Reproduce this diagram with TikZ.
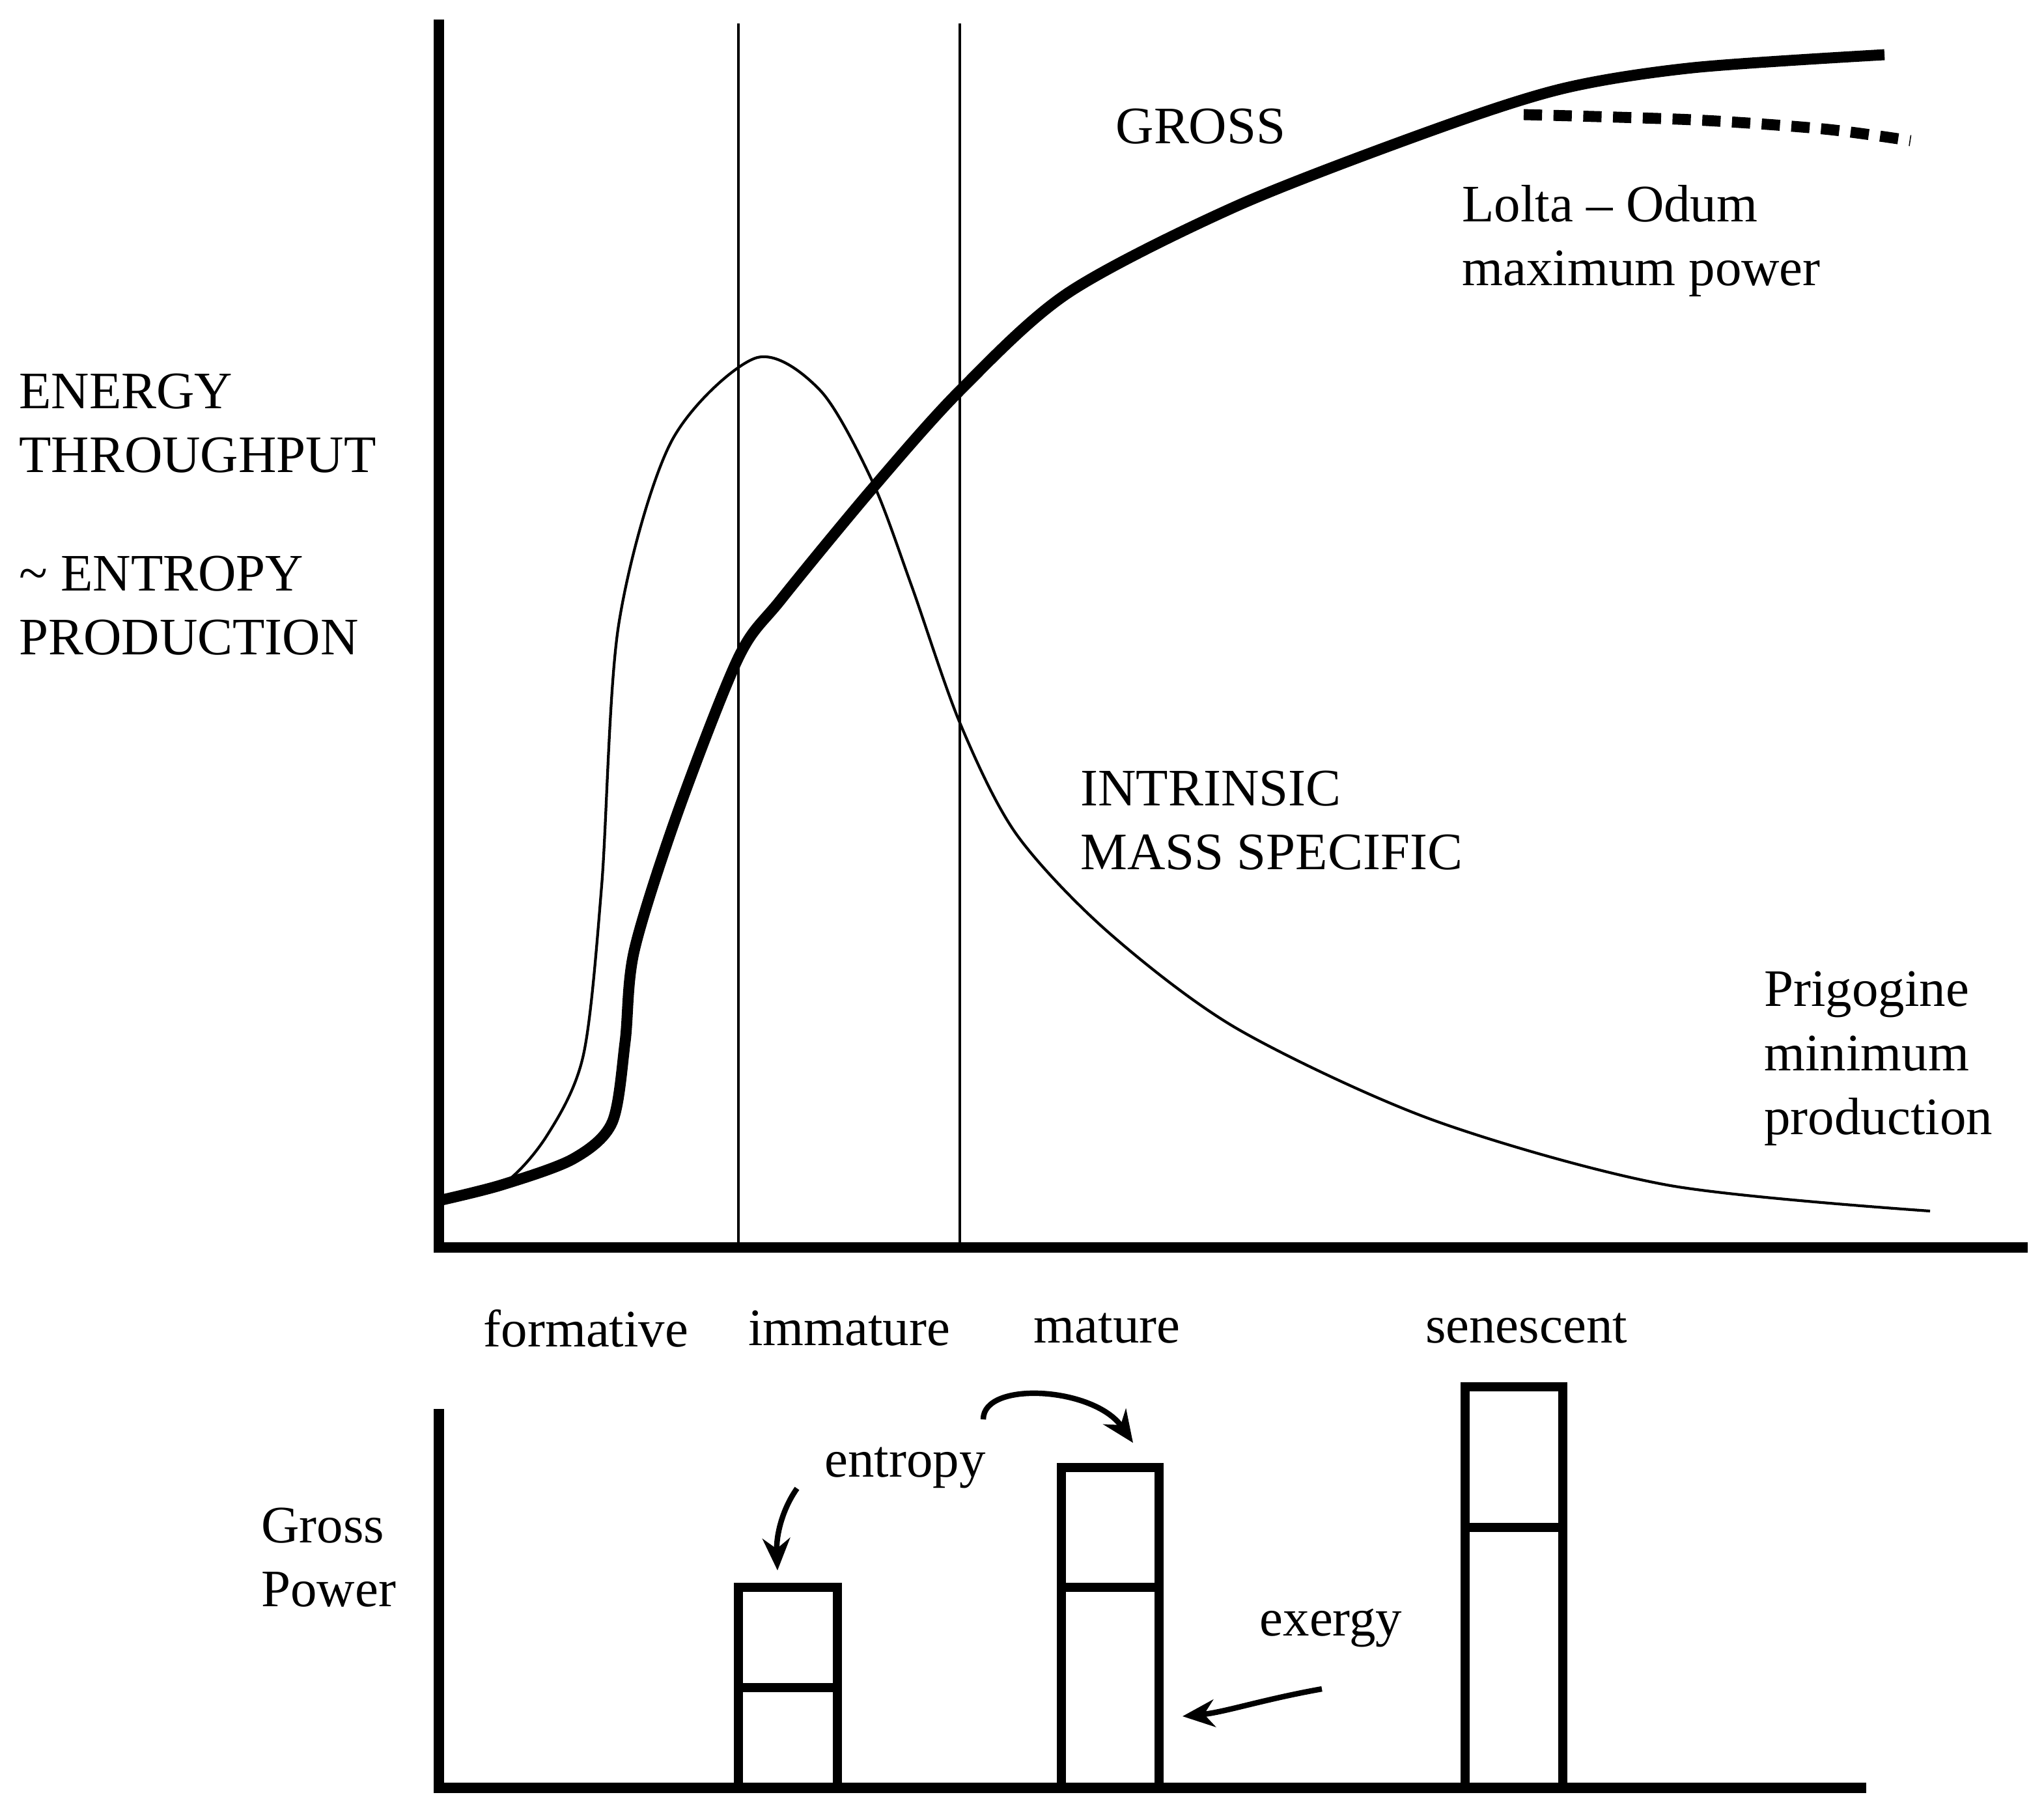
\documentclass[tikz,border=0pt]{standalone}
\usepackage{fontspec}
\setmainfont{Liberation Serif}
\usetikzlibrary{arrows.meta}
\begin{document}
\begin{tikzpicture}[x=0.01cm,y=-0.01cm,
  axis/.style={line width=2.2pt},
  thin/.style={line width=0.6pt},
  gross/.style={line width=2.4pt},
  barline/.style={line width=2pt},
  lbl/.style={font=\fontsize{11.5pt}{14pt}\selectfont, inner sep=0pt},
  arr/.style={line width=1.2pt,-{Stealth[length=7pt,width=6pt]}}]
\useasboundingbox (0,0) rectangle (1569.5,1389.5);
% top axes
\coordinate (ot) at (337,958);
\coordinate (yt) at (337,15);
\coordinate (xt) at (1557,958);
\draw[axis] (yt) -- (ot) -- (xt);
\coordinate (v1a) at (567,18); \coordinate (v1b) at (567,960);
\coordinate (v2a) at (737,18); \coordinate (v2b) at (737,960);
\draw[thin] (v1a) -- (v1b);
\draw[thin] (v2a) -- (v2b);
% gross curve
\draw[gross] plot[smooth,tension=0.5] coordinates {(337,922) (385,910) (440,890) (470,862) (480,800) (487,730) (520,625) (567,505) (600,460) (670,375) (737,300) (820,225) (950,158) (1100,100) (1200,68) (1300,52) (1447,42)};
\draw[line width=2.4pt,dash pattern=on 4pt off 2.5pt] plot[smooth] coordinates {(1170,88) (1300,92) (1400,99) (1467,108)};
% intrinsic
\draw[thin] plot[smooth,tension=0.5] coordinates {(337,922) (385,910) (420,872) (448,810) (462,680) (475,480) (515,340) (580,275) (630,300) (670,370) (700,450) (737,555) (780,640) (850,715) (950,790) (1100,860) (1280,910) (1482,930)};
% labels
\node[lbl] (gl) at (922,97) {GROSS};
\node[lbl,anchor=west,align=left] (lo) at (1122,185) {Lolta -- Odum\\maximum power};
\node[lbl,anchor=west,align=left] (et) at (14,325) {ENERGY\\THROUGHPUT};
\node[lbl,anchor=west,align=left] (ep) at (14,465) {\char`\~\ ENTROPY\\PRODUCTION};
\node[lbl,anchor=west,align=left] (im) at (829,630) {INTRINSIC\\MASS SPECIFIC};
\node[lbl,anchor=west,align=left] (pr) at (1354,813) {Prigogine\\minimum\\production};
\node[lbl] (s1) at (450,1020) {formative};
\node[lbl] (s2) at (652,1020) {immature};
\node[lbl] (s3) at (850,1020) {mature};
\node[lbl] (s4) at (1172,1020) {senescent};
% bottom axes
\coordinate (ob) at (337,1373);
\coordinate (yb) at (337,1082);
\coordinate (xb) at (1433,1373);
\draw[axis] (yb) -- (ob) -- (xb);
\node[lbl,anchor=west,align=left] (gp) at (200,1196) {Gross\\Power};
% bars
\draw[barline] (567,1373) |- (643,1219) -- (643,1373); \draw[barline] (567,1296) -- (643,1296);
\draw[barline] (815,1373) |- (890,1127) -- (890,1373); \draw[barline] (815,1219) -- (890,1219);
\draw[barline] (1125,1373) |- (1200,1065) -- (1200,1373); \draw[barline] (1125,1173) -- (1200,1173);
\coordinate (b1) at (597,1206);
\coordinate (b2) at (870,1108);
\coordinate (b2s) at (908,1318);
\node[lbl] (en) at (695,1127) {entropy};
\node[lbl] (ex) at (1022,1250) {exergy};
\draw[arr] (612,1143) .. controls (600,1160) and (596,1180) .. (b1);
\draw[arr] (755,1090) .. controls (755,1060) and (840,1065) .. (b2);
\draw[arr] (1015,1297) .. controls (970,1305) and (940,1315) .. (b2s);
\end{tikzpicture}
\end{document}
